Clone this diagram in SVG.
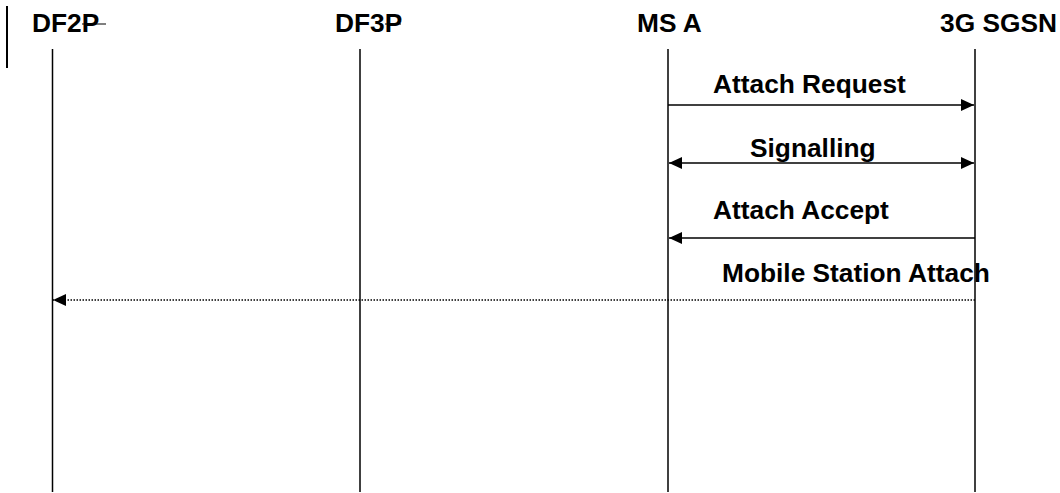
<svg xmlns="http://www.w3.org/2000/svg" width="1060" height="493" viewBox="0 0 1060 493">
<defs>
<style>
text{font-family:"Liberation Sans",Arial,sans-serif;font-weight:bold;font-size:26.3px;fill:#000}
.life{stroke:#000;stroke-width:1.5;fill:none}
.msg{stroke:#000;stroke-width:1.5;fill:none}
.dot{stroke:#000;stroke-width:1.3;fill:none;stroke-dasharray:1.5 1.5}
.thin{stroke:#000;stroke-width:1;fill:none}
</style>
<marker id="ah" viewBox="0 0 13 12" refX="13" refY="6" markerWidth="13" markerHeight="12" markerUnits="userSpaceOnUse" orient="auto">
<path d="M0,0 L13,6 L0,12 Z" fill="#000"/>
</marker>
<marker id="ahs" viewBox="0 0 13 12" refX="13" refY="6" markerWidth="13" markerHeight="12" markerUnits="userSpaceOnUse" orient="auto-start-reverse">
<path d="M0,0 L13,6 L0,12 Z" fill="#000"/>
</marker>
</defs>
<line x1="7" y1="6" x2="7" y2="68" stroke="#000" stroke-width="2"/>
<g id="df2p">
<text x="32" y="32">DF2P</text>
<line class="thin" x1="82" y1="24" x2="106" y2="24"/>
<line class="life" x1="52.5" y1="49" x2="52.5" y2="492"/>
</g>
<g id="df3p">
<text x="335" y="32">DF3P</text>
<line class="thin" x1="385" y1="24" x2="401" y2="24"/>
<line class="life" x1="360" y1="49" x2="360" y2="492"/>
</g>
<g id="msa">
<text x="637" y="32">MS A</text>
<line class="life" x1="668" y1="49" x2="668" y2="492"/>
</g>
<g id="sgsn">
<text x="940" y="32">3G SGSN</text>
</g>
<g id="labels">
<text x="713" y="93">Attach Request</text>
<text x="750" y="157">Signalling</text>
<text x="713" y="219">Attach Accept</text>
<text x="722" y="282">Mobile Station Attach</text>
</g>
<line class="life" x1="975" y1="49" x2="975" y2="492"/>
<g id="connectors">
<line class="msg" x1="668" y1="105" x2="974" y2="105" marker-end="url(#ah)"/>
<line class="msg" x1="669" y1="163" x2="974" y2="163" marker-start="url(#ahs)" marker-end="url(#ahs)"/>
<line class="msg" x1="975" y1="238" x2="669" y2="238" marker-end="url(#ah)"/>
<line class="dot" x1="975" y1="300" x2="53" y2="300" marker-end="url(#ah)"/>
</g>
</svg>
